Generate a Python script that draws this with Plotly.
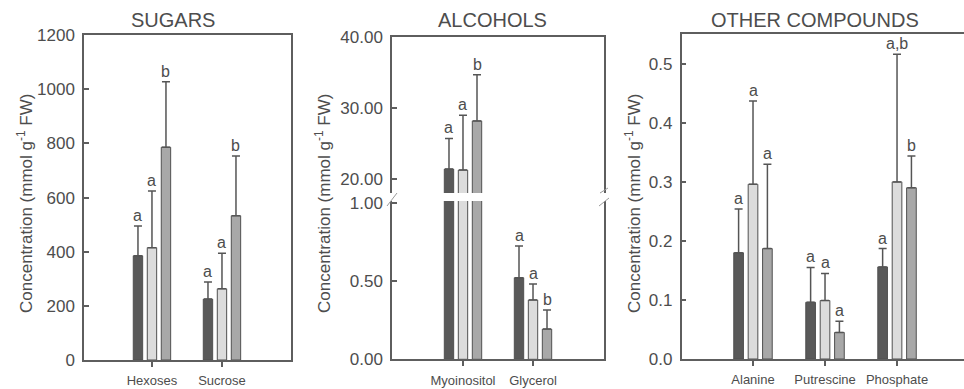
import plotly.graph_objects as go

# ------------------------------------------------------------------ data
series_names = ["Treatment 1", "Treatment 2", "Treatment 3"]

sugar_categories = ["Hexoses", "Sucrose"]
sugar_dark = [385, 225]
sugar_dark_err = [110, 63]
sugar_light = [415, 263]
sugar_light_err = [209, 131]
sugar_mid = [786, 533]
sugar_mid_err = [242, 221]
sugar_letters_dark = ["a", "a"]
sugar_letters_light = ["a", "a"]
sugar_letters_mid = ["b", "b"]
sugar_ticks = [0, 200, 400, 600, 800, 1000, 1200]

alcohol_categories = ["Myoinositol", "Glycerol"]
alcohol_dark = [21.34, 0.521]
alcohol_dark_err = [4.32, 0.202]
alcohol_light = [21.2, 0.379]
alcohol_light_err = [7.74, 0.102]
alcohol_mid = [28.14, 0.193]
alcohol_mid_err = [6.51, 0.122]
alcohol_letters_dark = ["a", "a"]
alcohol_letters_light = ["a", "a"]
alcohol_letters_mid = ["b", "b"]
alcohol_ticks_low = [0, 0.5, 1.0]
alcohol_ticks_high = [20, 30, 40]

other_categories = ["Alanine", "Putrescine", "Phosphate"]
other_dark = [0.180, 0.096, 0.156]
other_dark_err = [0.074, 0.059, 0.031]
other_light = [0.296, 0.099, 0.300]
other_light_err = [0.141, 0.046, 0.216]
other_mid = [0.187, 0.045, 0.290]
other_mid_err = [0.143, 0.019, 0.054]
other_letters_dark = ["a", "a", "a"]
other_letters_light = ["a", "a", "a,b"]
other_letters_mid = ["a", "a", "b"]
other_ticks = [0.0, 0.1, 0.2, 0.3, 0.4, 0.5]

panel_titles = ["SUGARS", "ALCOHOLS", "OTHER COMPOUNDS"]
y_title = "Concentration (mmol g<sup>-1</sup> FW)"

# ------------------------------------------------------------------ style
W, H = 964, 389
FONT = "Liberation Sans, Arial, sans-serif"
TXT = "#4d4d4d"
AX = "#5e5e5e"
fills = ["#595959", "#dcdcdc", "#a8a8a8"]
BARGAP = 0.4
SLOT = (1 - BARGAP) / 3
offsets = [-SLOT, 0, SLOT]


def px_x(p):
    return p / W


def px_y(p):
    return 1 - p / H


fig = go.Figure()
annotations = []


def add_bars(xa, ya, categories, vals, errs, letters, letter_filter=None):
    xs = list(range(len(categories)))
    for j in range(3):
        fig.add_trace(go.Bar(
            x=xs, y=vals[j], xaxis=xa, yaxis=ya, name=series_names[j],
            marker=dict(color=fills[j], line=dict(color="#505050", width=1)),
            error_y=dict(type="data", symmetric=False, array=errs[j],
                         arrayminus=[0] * len(xs), color="#555555",
                         thickness=1.5, width=4),
            showlegend=False, hoverinfo="skip",
        ))
        for i in xs:
            top = vals[j][i] + errs[j][i]
            yref = ya
            if letter_filter is not None:
                yref = letter_filter(top)
                if yref is None:
                    continue
            annotations.append(dict(
                x=i + offsets[j], y=top, xref=xa, yref=yref,
                text=letters[j][i], showarrow=False, yanchor="bottom",
                xanchor="center", font=dict(size=16, color=TXT, family=FONT),
            ))


# panel 1
add_bars("x", "y", sugar_categories,
         [sugar_dark, sugar_light, sugar_mid],
         [sugar_dark_err, sugar_light_err, sugar_mid_err],
         [sugar_letters_dark, sugar_letters_light, sugar_letters_mid])

# panel 2 (broken axis: lower y2, upper y3)
LOW_TOP = 1.011
HIGH_BOTTOM = 17.96
alc_vals = [alcohol_dark, alcohol_light, alcohol_mid]
alc_errs = [alcohol_dark_err, alcohol_light_err, alcohol_mid_err]
alc_letters = [alcohol_letters_dark, alcohol_letters_light, alcohol_letters_mid]
add_bars("x2", "y2", alcohol_categories, alc_vals, alc_errs, alc_letters,
         letter_filter=lambda t: "y2" if t <= LOW_TOP else None)
add_bars("x3", "y3", alcohol_categories, alc_vals, alc_errs, alc_letters,
         letter_filter=lambda t: "y3" if t >= HIGH_BOTTOM else None)

# panel 3
add_bars("x4", "y4", other_categories,
         [other_dark, other_light, other_mid],
         [other_dark_err, other_light_err, other_mid_err],
         [other_letters_dark, other_letters_light, other_letters_mid])

tickfont = dict(size=17, color=TXT, family=FONT)
catfont = dict(size=13, color=TXT, family=FONT)


def xaxis(domain, rng, cats, anchor, mirror=True):
    return dict(domain=domain, range=rng, anchor=anchor,
                tickvals=list(range(len(cats))), ticktext=cats,
                ticks="outside", ticklen=5, tickwidth=1.5, tickcolor=AX,
                showline=True, linecolor=AX, linewidth=1.5, mirror=mirror,
                showgrid=False, zeroline=False, tickfont=catfont,
                ticklabelstandoff=3, fixedrange=True, automargin=False)


def yaxis(domain, rng, tickvals, anchor, fmt, mirror=True):
    return dict(domain=domain, range=rng, anchor=anchor, tickvals=tickvals,
                tickformat=fmt, ticks="inside", ticklen=5, tickwidth=1.5,
                tickcolor=AX, showline=True, linecolor=AX, linewidth=1.5,
                mirror=mirror, showgrid=False, zeroline=False,
                tickfont=tickfont, ticklabelstandoff=4, fixedrange=True,
                automargin=False)


# domains from pixel geometry
p1x = [px_x(84), px_x(291)]
p1y = [px_y(360), px_y(35)]
p2x = [px_x(392), px_x(604)]
p2y_low = [px_y(359.3), px_y(201)]
p2y_high = [px_y(193), px_y(36.5)]
p3x = [px_x(681.5), 1.0]
p3y = [px_y(359), px_y(34)]

x_title_font = dict(size=20, color=TXT, family=FONT)
for txt, cx in zip(panel_titles, [173, 492.5, 815]):
    annotations.append(dict(x=px_x(cx), y=px_y(20), xref="paper", yref="paper",
                            text=txt, showarrow=False, xanchor="center",
                            yanchor="middle", font=x_title_font))
for cx in [25, 323, 633]:
    annotations.append(dict(x=px_x(cx), y=px_y(204), xref="paper", yref="paper",
                            text=y_title, showarrow=False, textangle=-90,
                            xanchor="center", yanchor="middle",
                            font=dict(size=17, color=TXT, family=FONT)))

shapes = []
slash = dict(type="line", xref="paper", yref="paper",
             line=dict(color="#9a9a9a", width=1))
for (xa0, ya0, xa1, ya1) in [(387, 206, 397, 193),
                             (600, 193, 608, 188),
                             (599, 206, 609, 198)]:
    s = dict(slash)
    s.update(x0=px_x(xa0), y0=px_y(ya0), x1=px_x(xa1), y1=px_y(ya1))
    shapes.append(s)

x3 = xaxis(p2x, [-1.014, 2.014], alcohol_categories, "y3", mirror=False)
x3.update(side="top", ticks="", showticklabels=False)

fig.update_layout(
    template="none",
    width=W, height=H, margin=dict(l=0, r=0, t=0, b=0, pad=0),
    autosize=False,
    paper_bgcolor="white", plot_bgcolor="white",
    barmode="group", bargap=BARGAP, bargroupgap=0.33,
    showlegend=False, font=dict(family=FONT, color=TXT),
    xaxis=xaxis(p1x, [-0.971, 1.986], sugar_categories, "y"),
    yaxis=yaxis(p1y, [0, 1200.5], sugar_ticks, "x", "d"),
    xaxis2=xaxis(p2x, [-1.014, 2.014], alcohol_categories, "y2", mirror=False),
    yaxis2=yaxis(p2y_low, [0, LOW_TOP], alcohol_ticks_low, "x2", ".2f"),
    xaxis3=x3,
    yaxis3=yaxis(p2y_high, [HIGH_BOTTOM, 40.05], alcohol_ticks_high, "x3", ".2f"),
    xaxis4=xaxis(p3x, [-0.993, 2.93], other_categories, "y4"),
    yaxis4=yaxis(p3y, [0, 0.5505], other_ticks, "x4", ".1f", mirror=False),
    annotations=annotations, shapes=shapes,
)

fig.write_html("out.html", config={"displayModeBar": False})
